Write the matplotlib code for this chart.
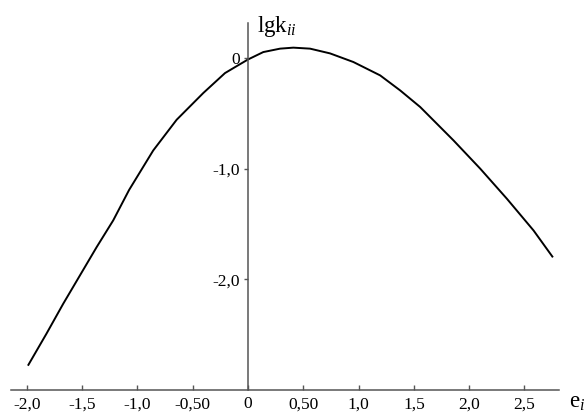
import matplotlib
matplotlib.use("Agg")
import matplotlib.pyplot as plt

plt.rcParams['font.family'] = ['Liberation Serif', 'DejaVu Serif']
plt.rcParams['mathtext.fontset'] = 'custom'
plt.rcParams['mathtext.rm'] = 'Liberation Serif'
plt.rcParams['mathtext.it'] = 'Liberation Serif:italic'

# curve: e_i vs lg k_ii
e_i = [-1.99, -1.822, -1.671, -1.52, -1.369, -1.219, -1.075, -0.857, -0.645,
       -0.404, -0.208, -0.102, 0.0, 0.138, 0.29, 0.41, 0.561, 0.742, 0.953,
       1.195, 1.376, 1.557, 1.858, 2.10, 2.341, 2.582, 2.757]
lgk = [-2.78, -2.49, -2.22, -1.964, -1.708, -1.466, -1.19, -0.833, -0.555,
       -0.313, -0.133, -0.07, -0.01, 0.057, 0.088, 0.097, 0.088, 0.045, -0.033,
       -0.154, -0.29, -0.44, -0.742, -0.998, -1.27, -1.557, -1.80]

xticks = [-2.0, -1.5, -1.0, -0.5, 0, 0.5, 1.0, 1.5, 2.0, 2.5]
xlabels = ['-2,0', '-1,5', '-1,0', '-0,50', '0', '0,50', '1,0', '1,5', '2,0', '2,5']
yticks = [0, -1.0, -2.0]
ylabels = ['0', '-1,0', '-2,0']

W, H = 585, 416
fig = plt.figure(figsize=(W / 100, H / 100), dpi=100)
ax = fig.add_axes([11 / W, 26 / H, 548 / W, 367 / H])
ax.set_xlim(-2.143, 2.812)
ax.set_ylim(-3.0, 0.32)

ax.plot(e_i, lgk, color='black', lw=1.4, solid_joinstyle='round',
        solid_capstyle='butt')

axcol = '#555555'
ax.spines['top'].set_visible(False)
ax.spines['right'].set_visible(False)
ax.spines['left'].set_position(('data', 0))
for s in ('left', 'bottom'):
    ax.spines[s].set_color(axcol)
    ax.spines[s].set_linewidth(1.1)

ax.set_xticks(xticks)
ax.set_xticklabels(xlabels)
ax.set_yticks(yticks)
ax.set_yticklabels(ylabels)
ax.tick_params(axis='x', direction='in', length=3.6, width=1, color=axcol,
               pad=4.5, labelsize=12.5)
ax.tick_params(axis='y', direction='out', length=3, width=1, color=axcol,
               pad=3, labelsize=12.5)
ax.patch.set_visible(False)

fig.text(257 / W, 1 - 32 / H, r'lgk$_{ii}$', fontsize=16.5, va='baseline')
fig.text(569 / W, 1 - 408 / H, r'e$_{i}$', fontsize=16.5, va='baseline')

fig.savefig('out.png', dpi=100)
